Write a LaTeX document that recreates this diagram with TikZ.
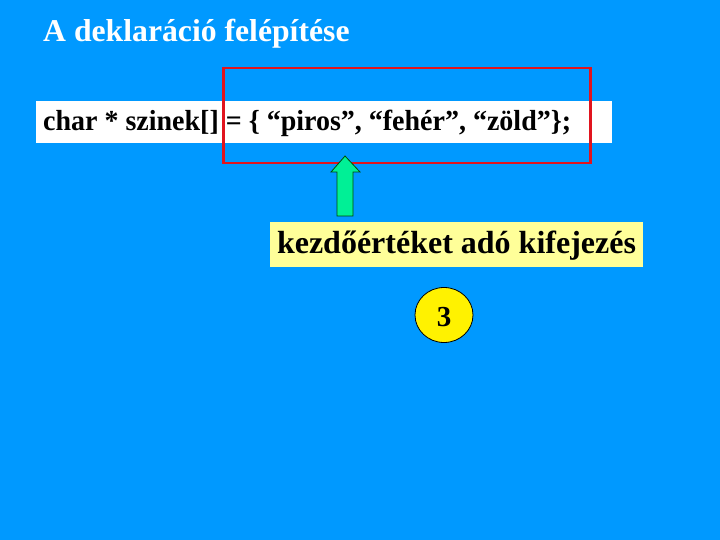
\documentclass[tikz,border=0pt]{standalone}
\usepackage{fontspec}
\setmainfont{Liberation Serif}
\newfontfamily\codeserif[FakeStretch=0.965]{Liberation Serif}
\usetikzlibrary{shapes.geometric}
\definecolor{bgblue}{RGB}{0,153,255}
\definecolor{mint}{RGB}{0,240,150}
\definecolor{redline}{RGB}{225,20,30}
\definecolor{paleyellow}{RGB}{255,255,153}
\tikzset{
  boldtext/.style={font=\bfseries\fontsize{#1}{#1}\selectfont},
  codetext/.style={font=\codeserif\bfseries\fontsize{#1}{#1}\selectfont},
}
\begin{document}
\begin{tikzpicture}[x=1pt,y=-1pt]
\useasboundingbox (0,0) rectangle (720,540);
\fill[bgblue] (0,0) rectangle (720,540);
% title
\node[boldtext=31.7, text=white, anchor=base west, inner sep=0] (title) at (43,42) {A deklaráció felépítése};
% code box
\fill[white] (36,101) rectangle (612,143);
\node[codetext=29, anchor=base west, inner sep=0pt] (code) at (43,131) {char * szinek[] = \{ “piros”, “fehér”, “zöld”\};};
% red box
\node[draw=redline, line width=2.5pt, anchor=north west, minimum width=367pt, minimum height=95pt, inner sep=0pt] (redbox) at (222,67) {};
% label box
\fill[paleyellow] (270,222) rectangle (643,267);
\node[boldtext=32, anchor=base, inner sep=0pt] (label) at (456.5,254) {kezdőértéket adó kifejezés};
% arrow
\draw[fill=mint, draw=black!70!green, line width=0.8pt, line join=miter]
  (345,156) -- (360,172) -- (353,172) -- (353,216) -- (337,216) -- (337,172) -- (331,172) -- cycle;
% circle
\node[ellipse, draw=black, fill=yellow, line width=0.8pt, minimum width=58pt, minimum height=55pt, inner sep=0pt] (num) at (444,315) {};
\node[boldtext=29, anchor=base, inner sep=0pt] (numtext) at (444,326) {3};
\end{tikzpicture}
\end{document}
